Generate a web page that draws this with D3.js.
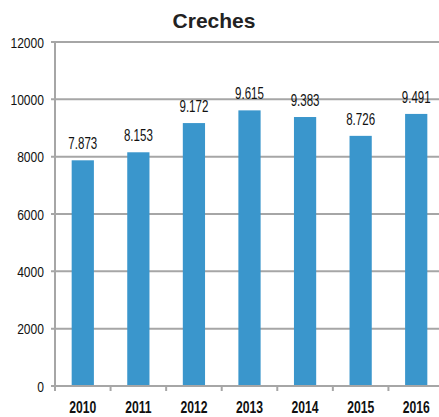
<!DOCTYPE html>
<html>
<head>
<meta charset="utf-8">
<script src="https://cdn.jsdelivr.net/npm/d3@7"></script>
<style>
  body { margin: 0; background: #fff; }
  svg { display: block; }
</style>
</head>
<body>
<script>
const width  = 439
const height = 417

const years  = ["2010", "2011", "2012", "2013", "2014", "2015", "2016"];
const values = [7873, 8153, 9172, 9615, 9383, 8726, 9491];
const labels = ["7.873", "8.153", "9.172", "9.615", "9.383", "8.726", "9.491"];
const yTicks = [0, 2000, 4000, 6000, 8000, 10000, 12000];

const margin = {top: 42, right: -5, bottom: 31, left: 55};

const font = "'Liberation Sans', Arial, sans-serif";

const x = d3.scaleBand()
	.domain(years)
	.range([margin.left, width - margin.right])
	.paddingInner(0.6)
	.paddingOuter(0.3);

const y = d3.scaleLinear()
	.domain([0, 12000])
	.range([height - margin.bottom, margin.top]);

const svg = d3.select("body").append("svg")
	.attr("width", width)
	.attr("height", height);

//title
svg.append("text")
	.attr("x", 214)
	.attr("y", 28)
	.attr("text-anchor", "middle")
	.attr("font-family", font)
	.attr("font-weight", "bold")
	.attr("font-size", 21)
	.attr("fill", "#222")
	.text("Creches");

//grid lines + y ticks
svg.append("g")
	.attr("stroke", "#a6a6a6")
	.attr("stroke-width", 2)
.selectAll("line")
.data(yTicks)
.join("line")
	.attr("x1", margin.left - 4)
	.attr("x2", width)
	.attr("y1", d => y(d))
	.attr("y2", d => y(d));

//y labels (narrow look via horizontal scale)
svg.append("g")
	.attr("text-anchor", "end")
	.attr("font-family", font)
	.attr("font-size", 15.5)
	.attr("fill", "#111")
.selectAll("text")
.data(yTicks)
.join("text")
	.attr("transform", d => `translate(${margin.left - 11},${y(d)}) scale(0.78,1)`)
	.attr("dy", "0.36em")
	.text(d => d);

svg.append("line")
	.attr("x1", margin.left).attr("x2", margin.left)
	.attr("y1", y(12000)).attr("y2", y(0) + 5)
	.attr("stroke", "#a6a6a6")
	.attr("stroke-width", 2);

//bars
svg.append("g")
	.attr("fill", "#3a96cc")
.selectAll("rect")
.data(values)
.join("rect")
	.attr("x", (d, i) => x(years[i]))
	.attr("width", x.bandwidth())
	.attr("y", d => y(d))
	.attr("height", d => y(0) - y(d));

//value labels
svg.append("g")
	.attr("text-anchor", "middle")
	.attr("font-family", font)
	.attr("font-size", 16.5)
	.attr("fill", "#111")
.selectAll("text")
.data(values)
.join("text")
	.attr("transform", (d, i) => `translate(${x(years[i]) + x.bandwidth() / 2},${y(d) - 11}) scale(0.7,1)`)
	.text((d, i) => labels[i]);

//x axis
const step = x.step();
svg.append("g")
	.attr("stroke", "#a6a6a6")
	.attr("stroke-width", 2)
.selectAll("line")
.data(years)
.join("line")
	.attr("x1", (d, i) => margin.left + i * step)
	.attr("x2", (d, i) => margin.left + i * step)
	.attr("y1", y(0))
	.attr("y2", y(0) + 5);

svg.append("line")
	.attr("x1", margin.left).attr("x2", width)
	.attr("y1", y(0)).attr("y2", y(0))
	.attr("stroke", "#a6a6a6")
	.attr("stroke-width", 2);

svg.append("g")
	.attr("text-anchor", "middle")
	.attr("font-family", font)
	.attr("font-weight", "bold")
	.attr("font-size", 16)
	.attr("fill", "#111")
.selectAll("text")
.data(years)
.join("text")
	.attr("transform", d => `translate(${x(d) + x.bandwidth() / 2},413) scale(0.76,1)`)
	.text(d => d);
</script>
</body>
</html>
